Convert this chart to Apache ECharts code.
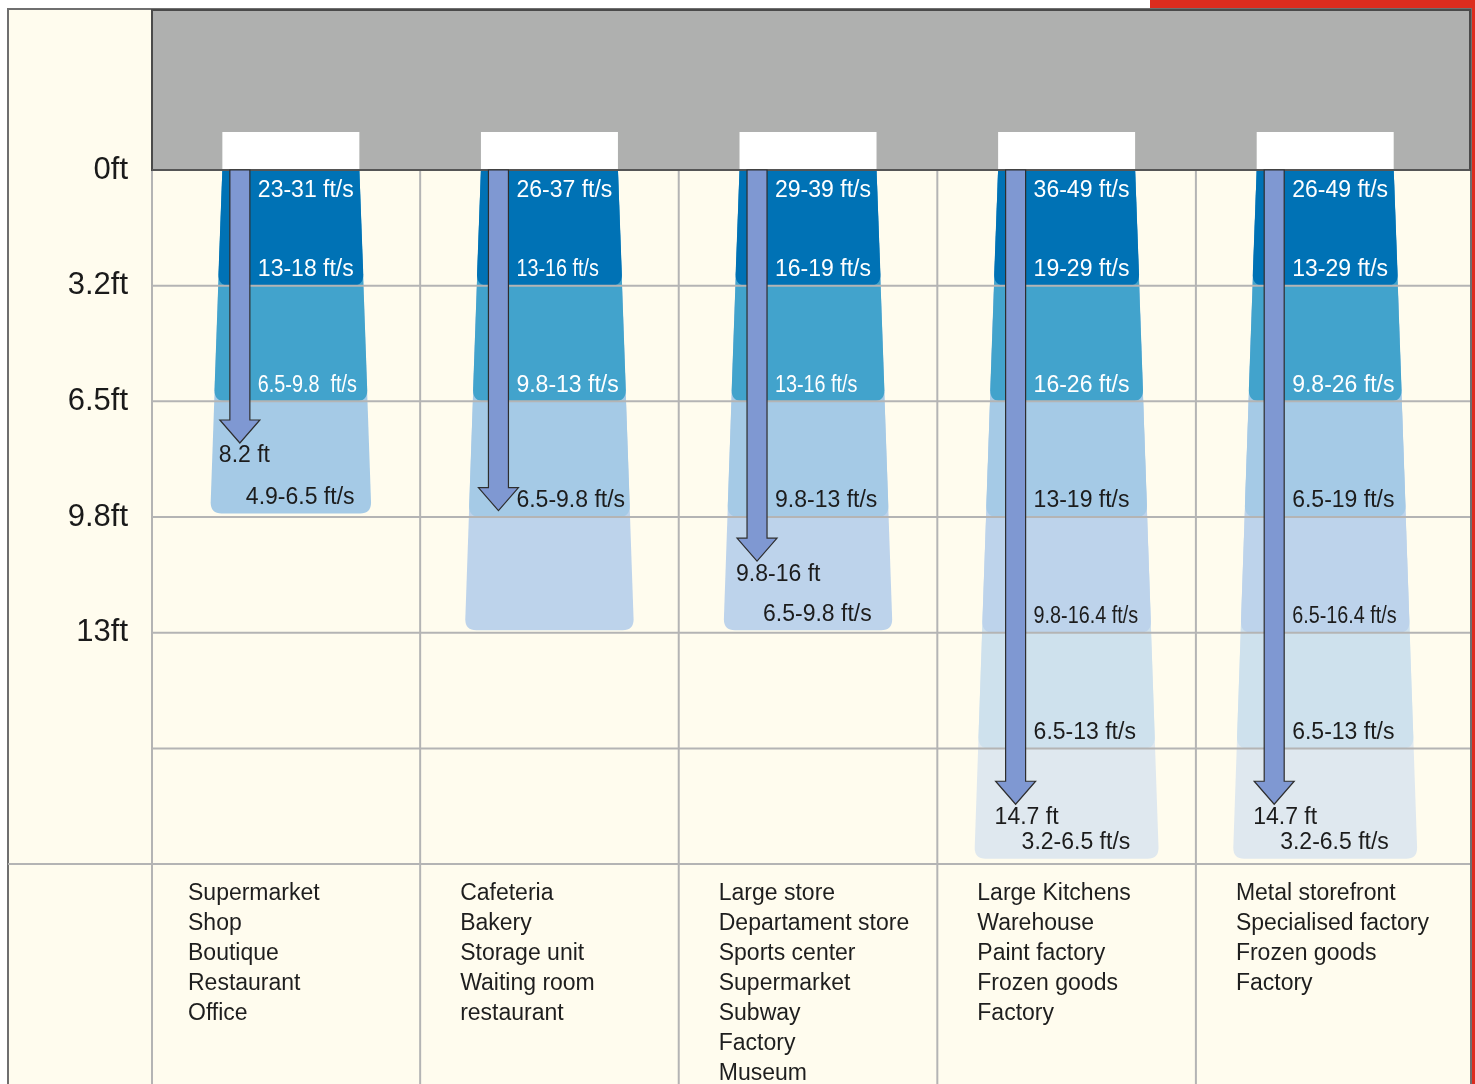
<!DOCTYPE html>
<html>
<head>
<meta charset="utf-8">
<title>Air curtain throw and speed</title>
<script src="https://cdn.jsdelivr.net/npm/echarts@6/dist/echarts.min.js"></script>
<style>
  html, body { margin: 0; padding: 0; background: #fff; }
  #chart { width: 1475px; height: 1084px; }
</style>
</head>
<body>
<div id="chart"></div>
<script>
// typical applications per unit (listed under each column)
const applications = [
  ['Supermarket', 'Shop', 'Boutique', 'Restaurant', 'Office'],
  ['Cafeteria', 'Bakery', 'Storage unit', 'Waiting room', 'restaurant'],
  ['Large store', 'Departament store', 'Sports center', 'Supermarket', 'Subway', 'Factory', 'Museum'],
  ['Large Kitchens', 'Warehouse', 'Paint factory', 'Frozen goods', 'Factory'],
  ['Metal storefront', 'Specialised factory', 'Frozen goods', 'Factory']
];

// depth grid (ft) and its labels
const depthTicks = [0, 3.25, 6.5, 9.75, 13, 16.25, 19.5];
const depthTickLabels = ['0ft', '3.2ft', '6.5ft', '9.8ft', '13ft'];

// where each speed band ends (ft below the outlet)
const bandEnds = [
  [3.25, 6.5, 9.65],
  [3.25, 6.5, 9.75, 12.93],
  [3.25, 6.5, 9.75, 12.93],
  [3.25, 6.5, 9.75, 13, 16.25, 19.35],
  [3.25, 6.5, 9.75, 13, 16.25, 19.35]
];

// air speed at the outlet and at the end of each band
const outletSpeeds = ['23-31 ft/s', '26-37 ft/s', '29-39 ft/s', '36-49 ft/s', '26-49 ft/s'];
const bandSpeeds = [
  ['13-18 ft/s', '6.5-9.8  ft/s', '4.9-6.5 ft/s'],
  ['13-16 ft/s', '9.8-13 ft/s', '6.5-9.8 ft/s', ''],
  ['16-19 ft/s', '13-16 ft/s', '9.8-13 ft/s', '6.5-9.8 ft/s'],
  ['19-29 ft/s', '16-26 ft/s', '13-19 ft/s', '9.8-16.4 ft/s', '6.5-13 ft/s', '3.2-6.5 ft/s'],
  ['13-29 ft/s', '9.8-26 ft/s', '6.5-19 ft/s', '6.5-16.4 ft/s', '6.5-13 ft/s', '3.2-6.5 ft/s']
];

// recommended throw (arrow) per unit
const throwDepths = [7.67, 9.57, 10.99, 17.82, 17.82];
const throwLabels = ['8.2 ft', '', '9.8-16 ft', '14.7 ft', '14.7 ft'];

// styling
const bandColors = ['#0072b5', '#42a3cc', '#a5cae6', '#bdd3eb', '#cee1ed', '#dfe8ef'];
const condensedBands = [[1], [0], [1], [3], [3]]; // labels set in a narrower cut
const FONT = '"Liberation Sans", Arial, Helvetica, sans-serif';
const FRAME_LEFT = 8;
const NOZZLE_HALF = 68.5;
const NOZZLE_H = 38;
const FLARE = 0.034;      // widening per side per px of depth
const ARROW_OFFSET = 51;  // arrow sits left of the column centre

const columnData = applications.map((a, i) => [i, 0]);

function bandPath(cx, y0, y1, hw0, hw1, r) {
  const xl0 = cx - hw0, xr0 = cx + hw0, xl1 = cx - hw1, xr1 = cx + hw1;
  return 'M' + xl0 + ',' + y0 + 'L' + xr0 + ',' + y0 +
    'L' + xr1 + ',' + (y1 - r) + 'Q' + xr1 + ',' + y1 + ' ' + (xr1 - r) + ',' + y1 +
    'L' + (xl1 + r) + ',' + y1 + 'Q' + xl1 + ',' + y1 + ' ' + xl1 + ',' + (y1 - r) + 'Z';
}

function renderFrame(params, api) {
  const cs = params.coordSys;
  const y0 = api.coord([0, 0])[1];
  const bottom = cs.y + cs.height;
  const children = [];
  for (let i = 0; i < applications.length - 1; i++) {
    const x = api.coord([i + 0.5, 0])[0];
    children.push({ type: 'line', shape: { x1: x, y1: y0, x2: x, y2: bottom },
      style: { stroke: '#b4b4b4', lineWidth: 2 } });
  }
  children.push({ type: 'line', shape: { x1: cs.x, y1: y0, x2: cs.x, y2: bottom },
    style: { stroke: '#b4b4b4', lineWidth: 2 } });
  children.push({ type: 'rect', shape: { x: cs.x, y: cs.y, width: cs.width, height: y0 - cs.y },
    style: { fill: '#afb0af', stroke: '#4a4a4a', lineWidth: 2 } });
  return { type: 'group', children: children };
}

function renderBands(params, api) {
  const i = params.dataIndex;
  const p0 = api.coord([i, 0]);
  const cx = p0[0], y0 = p0[1];
  const ends = bandEnds[i];
  const children = [];
  for (let b = ends.length - 1; b >= 0; b--) {
    const y1 = api.coord([i, ends[b]])[1];
    const hw1 = NOZZLE_HALF + FLARE * (y1 - y0);
    children.push({ type: 'path', shape: { pathData: bandPath(cx, y0, y1, NOZZLE_HALF, hw1, 11) },
      style: { fill: bandColors[b] } });
  }
  children.push({ type: 'rect', shape: { x: cx - NOZZLE_HALF, y: y0 - NOZZLE_H, width: NOZZLE_HALF * 2, height: NOZZLE_H },
    style: { fill: '#ffffff' } });
  return { type: 'group', children: children };
}

function renderGridLines(params, api) {
  const cs = params.coordSys;
  const d = depthTicks[params.dataIndex];
  const y = api.coord([0, d])[1];
  const last = params.dataIndex === depthTicks.length - 1;
  return { type: 'line',
    shape: { x1: last ? FRAME_LEFT : cs.x, y1: y, x2: cs.x + cs.width, y2: y },
    style: { stroke: d === 0 ? '#555555' : '#b4b4b4', lineWidth: 2 } };
}

function renderArrows(params, api) {
  const i = params.dataIndex;
  const p0 = api.coord([i, 0]);
  const cx = p0[0], y0 = p0[1];
  const ax = cx - ARROW_OFFSET;
  const tip = api.coord([i, throwDepths[i]])[1];
  const sh = 10, hh = 20, hl = 23;
  const children = [];

  // speed labels
  const labelText = (text, y, dark, narrow) => {
    const below = y > tip;
    return { type: 'text', x: below ? ax + 6 : ax + 18, y: y, scaleX: narrow ? 0.86 : 1,
      style: { text: text, x: 0, y: 0,
        fill: dark ? '#1c1c1c' : '#ffffff', font: '23px ' + FONT, align: 'left', verticalAlign: 'middle' } };
  };
  children.push(labelText(outletSpeeds[i], y0 + 21, false, false));
  bandSpeeds[i].forEach((s, b) => {
    if (!s) return;
    const y1 = api.coord([i, bandEnds[i][b]])[1];
    children.push(labelText(s, y1 - 16, b >= 2, condensedBands[i].indexOf(b) >= 0));
  });

  children.push({ type: 'polygon', shape: { points: [
      [ax - sh, y0], [ax + sh, y0], [ax + sh, tip - hl], [ax + hh, tip - hl],
      [ax, tip], [ax - hh, tip - hl], [ax - sh, tip - hl]] },
    style: { fill: '#7f98d2', stroke: '#2e2e2e', lineWidth: 1.2 } });

  if (throwLabels[i]) {
    children.push({ type: 'text', style: { text: throwLabels[i], x: ax - 21, y: tip + 13,
      fill: '#1c1c1c', font: '23px ' + FONT, align: 'left', verticalAlign: 'middle' } });
  }

  // application list under the column
  const cs = params.coordSys;
  const left = i === 0 ? cs.x - 4 : api.coord([i - 0.5, 0])[0];
  const yList = api.coord([i, depthTicks[depthTicks.length - 1]])[1];
  children.push({ type: 'text', style: { text: applications[i].join('\n'), x: left + 40, y: yList + 15,
    fill: '#1e1e1e', font: '23px ' + FONT, lineHeight: 30, align: 'left', verticalAlign: 'top' } });

  return { type: 'group', children: children };
}

const chart = echarts.init(document.getElementById('chart'), null, { renderer: 'canvas' });

chart.setOption({
  animation: false,
  backgroundColor: '#ffffff',
  graphic: [
    { type: 'rect', z: 0, shape: { x: 1150, y: 0, width: 325, height: 1084 }, style: { fill: '#dd2c1e' } },
    { type: 'rect', z: 0, shape: { x: FRAME_LEFT, y: 9, width: 1463, height: 1080 },
      style: { fill: '#fffcee', stroke: '#6f6f6f', lineWidth: 2 } }
  ],
  grid: { left: 152, right: 5, top: 10, bottom: 0, containLabel: false },
  xAxis: { type: 'value', min: -0.537, max: 4.56, show: false },
  yAxis: {
    type: 'value', inverse: true, min: -4.496, max: 25.68,
    axisLine: { show: false }, axisTick: { show: false }, splitLine: { show: false },
    axisLabel: {
      customValues: depthTicks.slice(0, depthTickLabels.length),
      formatter: function (v) {
        const k = depthTicks.findIndex(t => Math.abs(t - v) < 1e-6);
        return k >= 0 && k < depthTickLabels.length ? depthTickLabels[k] : '';
      },
      margin: 24, fontSize: 31, color: '#1a1a1a', fontFamily: FONT
    }
  },
  series: [
    { type: 'custom', name: 'frame', z: 1, silent: true, renderItem: renderFrame, data: [[0, 0]] },
    { type: 'custom', name: 'bands', z: 2, silent: true, renderItem: renderBands, data: columnData },
    { type: 'custom', name: 'grid lines', z: 3, silent: true, renderItem: renderGridLines,
      data: depthTicks.map(d => [0, d]) },
    { type: 'custom', name: 'throw', z: 4, silent: true, renderItem: renderArrows, data: columnData }
  ]
});
</script>
</body>
</html>
